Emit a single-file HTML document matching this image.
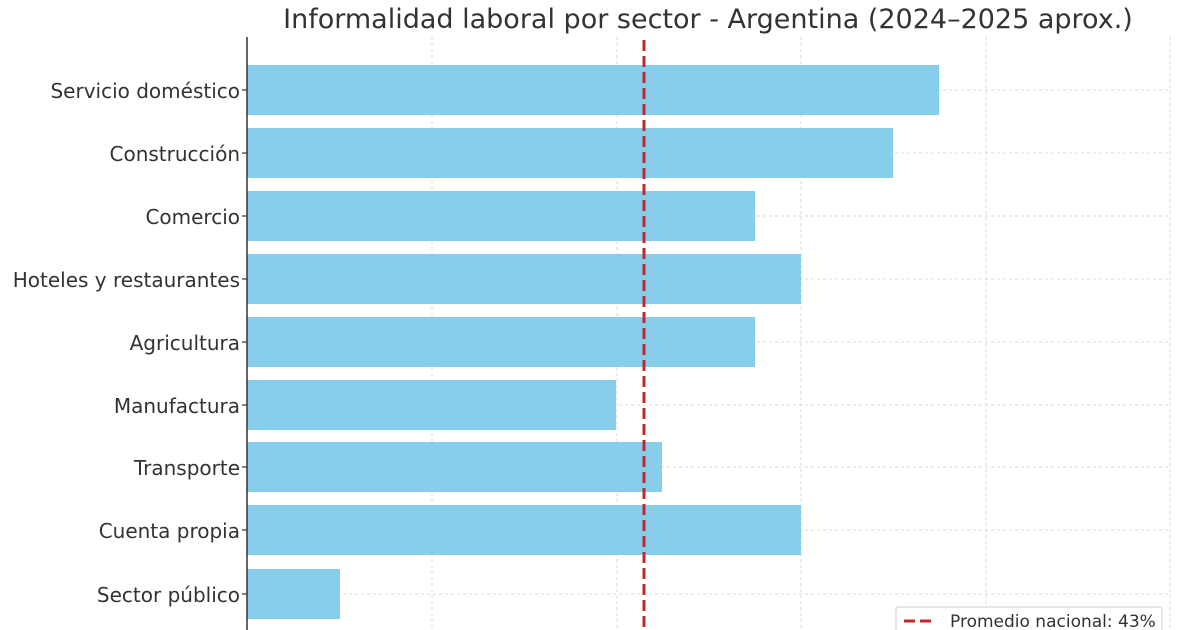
<!DOCTYPE html>
<html><head><meta charset="utf-8"><style>
html,body{margin:0;padding:0;background:#fff;}
svg{display:block;font-family:"DejaVu Sans","Liberation Sans",sans-serif;}
</style></head><body>
<svg width="1200" height="630" viewBox="0 0 1200 630" xmlns="http://www.w3.org/2000/svg">
<rect width="1200" height="630" fill="#fff"/>
<text x="708" y="28" font-size="27" fill="#333" text-anchor="middle">Informalidad laboral por sector - Argentina (2024–2025 aprox.)</text>
<g stroke="#d8d8d8" stroke-width="1" stroke-dasharray="3,3">
<line x1="432" y1="37" x2="432" y2="630"/>
<line x1="617" y1="37" x2="617" y2="630"/>
<line x1="801" y1="37" x2="801" y2="630"/>
<line x1="986" y1="37" x2="986" y2="630"/>
<line x1="1170" y1="37" x2="1170" y2="630"/>
<line x1="247" y1="90" x2="1170" y2="90"/>
<line x1="247" y1="153" x2="1170" y2="153"/>
<line x1="247" y1="216" x2="1170" y2="216"/>
<line x1="247" y1="279" x2="1170" y2="279"/>
<line x1="247" y1="342" x2="1170" y2="342"/>
<line x1="247" y1="405" x2="1170" y2="405"/>
<line x1="247" y1="467" x2="1170" y2="467"/>
<line x1="247" y1="530" x2="1170" y2="530"/>
<line x1="247" y1="594" x2="1170" y2="594"/>
</g>
<g fill="#87ceeb">
<rect x="247" y="65" width="692" height="50"/>
<rect x="247" y="128" width="646" height="50"/>
<rect x="247" y="191" width="508" height="50"/>
<rect x="247" y="254" width="554" height="50"/>
<rect x="247" y="317" width="508" height="50"/>
<rect x="247" y="380" width="369" height="50"/>
<rect x="247" y="442" width="415" height="50"/>
<rect x="247" y="505" width="554" height="50"/>
<rect x="247" y="569" width="93" height="50"/>
</g>
<line x1="247" y1="37" x2="247" y2="630" stroke="#333" stroke-width="1.5"/>
<g stroke="#333" stroke-width="1.2">
<line x1="242" y1="90" x2="247" y2="90"/><line x1="242" y1="153" x2="247" y2="153"/>
<line x1="242" y1="216" x2="247" y2="216"/><line x1="242" y1="279" x2="247" y2="279"/>
<line x1="242" y1="342" x2="247" y2="342"/><line x1="242" y1="405" x2="247" y2="405"/>
<line x1="242" y1="467" x2="247" y2="467"/><line x1="242" y1="530" x2="247" y2="530"/>
<line x1="242" y1="594" x2="247" y2="594"/>
</g>
<line x1="644" y1="40" x2="644" y2="630" stroke="#c0282d" stroke-width="3" stroke-dasharray="11,5"/>
<g font-size="20" fill="#333" text-anchor="end">
<text x="240" y="98">Servicio doméstico</text>
<text x="240" y="161">Construcción</text>
<text x="240" y="224">Comercio</text>
<text x="240" y="287">Hoteles y restaurantes</text>
<text x="240" y="350">Agricultura</text>
<text x="240" y="413">Manufactura</text>
<text x="240" y="475">Transporte</text>
<text x="240" y="538">Cuenta propia</text>
<text x="240" y="602">Sector público</text>
</g>
<rect x="896" y="607" width="266" height="30" rx="3" fill="#fff" stroke="#ccc"/>
<line x1="904" y1="621" x2="934" y2="621" stroke="#c0282d" stroke-width="3" stroke-dasharray="11,5"/>
<text x="950" y="627" font-size="17" fill="#333">Promedio nacional: 43%</text>
</svg>
</body></html>
